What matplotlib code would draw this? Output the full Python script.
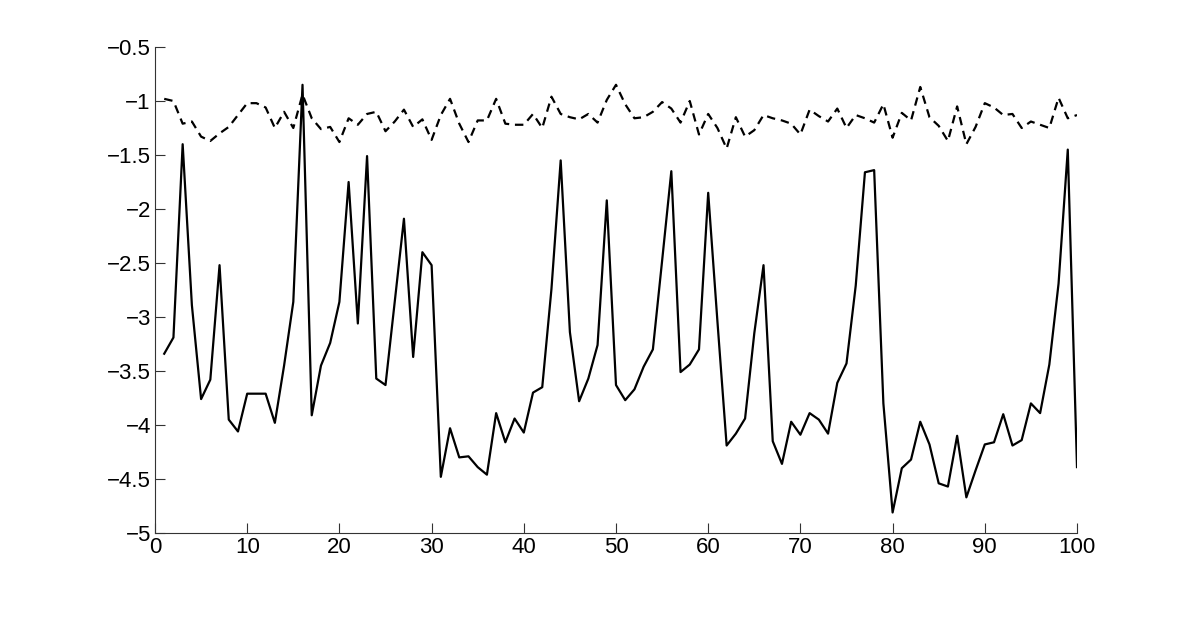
import numpy as np
import matplotlib
matplotlib.use("Agg")
import matplotlib.pyplot as plt

plt.rcParams['font.family'] = ['Liberation Sans', 'DejaVu Sans']

# sample index
x = np.arange(1, 101)

# solid series
solid = [-3.34, -3.19, -1.40, -2.89, -3.76, -3.58, -2.52, -3.95, -4.06, -3.71,
         -3.71, -3.71, -3.98, -3.45, -2.86, -0.85, -3.91, -3.45, -3.24, -2.86,
         -1.75, -3.06, -1.51, -3.57, -3.63, -2.86, -2.09, -3.37, -2.40, -2.52,
         -4.48, -4.03, -4.30, -4.29, -4.39, -4.46, -3.89, -4.16, -3.94, -4.07,
         -3.70, -3.65, -2.74, -1.55, -3.14, -3.78, -3.57, -3.26, -1.92, -3.63,
         -3.77, -3.67, -3.46, -3.30, -2.48, -1.65, -3.51, -3.44, -3.30, -1.85,
         -3.04, -4.19, -4.08, -3.94, -3.15, -2.52, -4.15, -4.36, -3.97, -4.09,
         -3.89, -3.95, -4.08, -3.61, -3.43, -2.71, -1.66, -1.64, -3.80, -4.81,
         -4.40, -4.32, -3.97, -4.18, -4.54, -4.57, -4.10, -4.67, -4.42, -4.18,
         -4.16, -3.90, -4.19, -4.14, -3.80, -3.89, -3.44, -2.69, -1.45, -4.39]

# dashed series
dashed = [-0.98, -1.00, -1.21, -1.19, -1.33, -1.37, -1.30, -1.24, -1.13, -1.02,
          -1.02, -1.06, -1.25, -1.10, -1.25, -0.94, -1.16, -1.26, -1.24, -1.38,
          -1.16, -1.22, -1.12, -1.10, -1.28, -1.19, -1.08, -1.24, -1.17, -1.36,
          -1.13, -0.98, -1.21, -1.38, -1.18, -1.18, -0.98, -1.21, -1.22, -1.22,
          -1.12, -1.25, -0.96, -1.12, -1.15, -1.17, -1.12, -1.20, -0.99, -0.85,
          -1.03, -1.16, -1.15, -1.10, -1.01, -1.07, -1.20, -1.00, -1.31, -1.12,
          -1.25, -1.44, -1.15, -1.33, -1.27, -1.13, -1.16, -1.18, -1.21, -1.31,
          -1.08, -1.14, -1.19, -1.07, -1.25, -1.13, -1.16, -1.20, -1.03, -1.34,
          -1.11, -1.18, -0.87, -1.15, -1.23, -1.37, -1.05, -1.40, -1.24, -1.02,
          -1.06, -1.13, -1.12, -1.25, -1.19, -1.22, -1.25, -0.97, -1.16, -1.13]

fig = plt.figure(figsize=(11.89, 6.25), dpi=100)
ax = fig.add_axes([155 / 1189, 1 - 533 / 625, (1077 - 155) / 1189, (533 - 47) / 625])

ax.plot(x, solid, color='black', lw=1.6)
ax.plot(x, dashed, color='black', lw=1.6, dashes=(3.8, 2.6))

ax.set_xlim(0, 100)
ax.set_ylim(-5, -0.5)
ax.set_xticks(np.arange(0, 101, 10))
ax.set_yticks(np.arange(-5, -0.49, 0.5))
ax.set_yticklabels(['\u22125', '\u22124.5', '\u22124', '\u22123.5', '\u22123',
                    '\u22122.5', '\u22122', '\u22121.5', '\u22121', '\u22120.5'])

for s in ['top', 'right']:
    ax.spines[s].set_visible(False)
for s in ['left', 'bottom']:
    ax.spines[s].set_color('#333333')
    ax.spines[s].set_linewidth(0.8)

ax.tick_params(direction='in', length=7, width=0.8, color='#333333',
               labelsize=16, pad=3)

fig.savefig('out.png', dpi=100)
